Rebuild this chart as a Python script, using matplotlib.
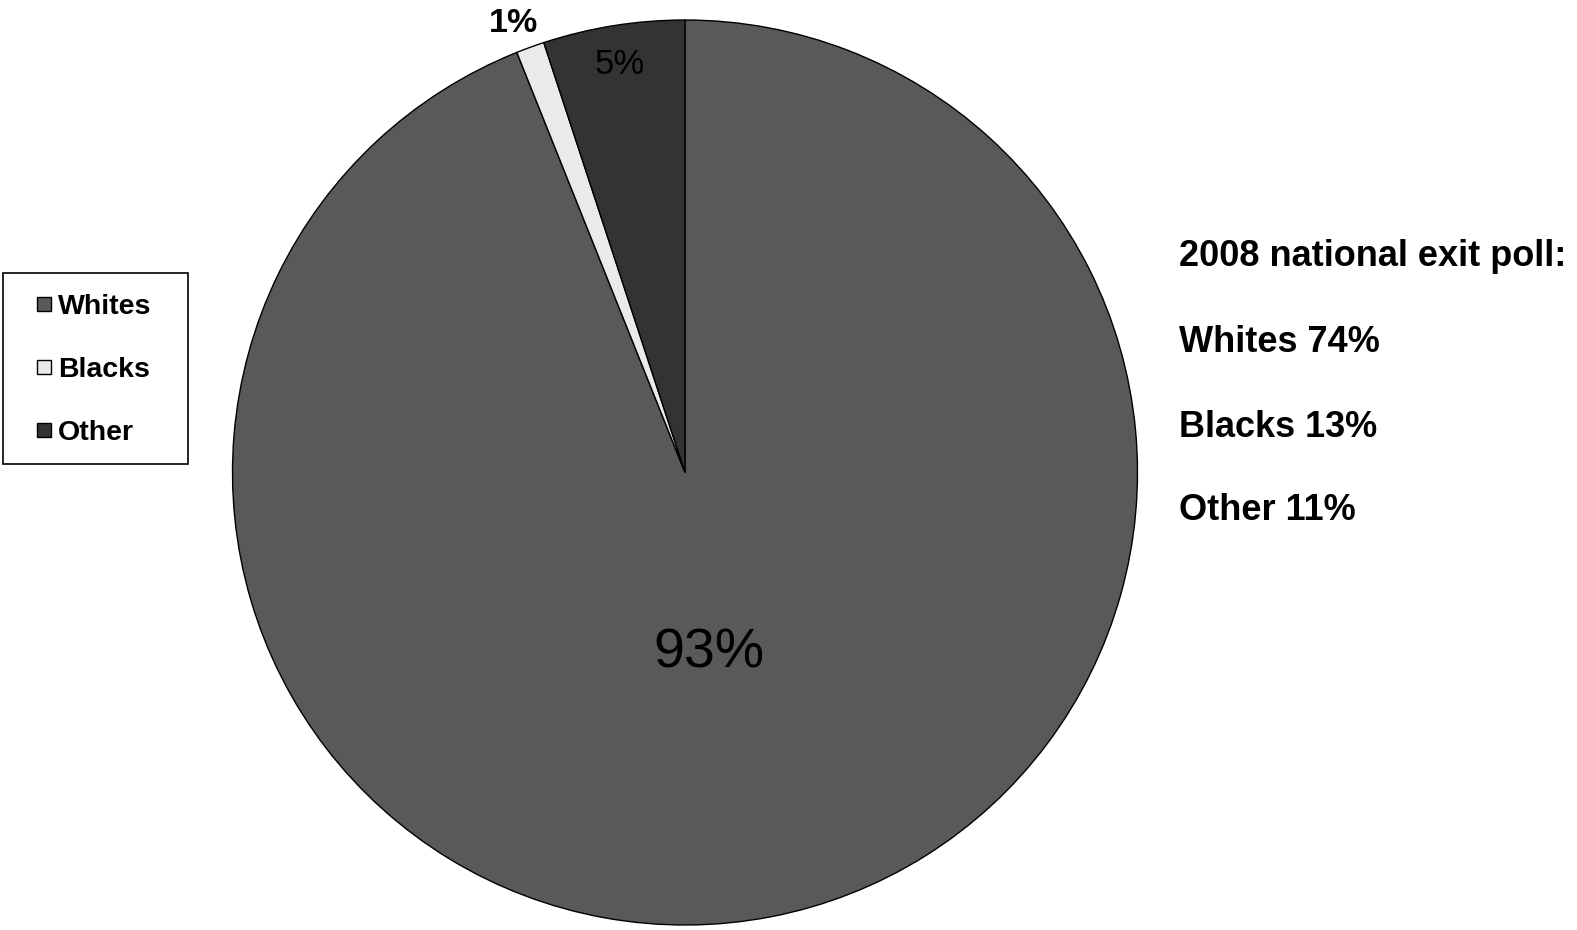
import matplotlib
matplotlib.use("Agg")
import matplotlib.pyplot as plt
from matplotlib.patches import Rectangle

categories = ["Whites", "Blacks", "Other"]
values = [93, 1, 5]
pie_labels = ["93%", "1%", "5%"]
colors = ["#595959", "#EAEAEA", "#333333"]
exit_poll_title = "2008 national exit poll:"
exit_poll_lines = ["Whites 74%", "Blacks 13%", "Other 11%"]

W, H = 1577, 930
fig = plt.figure(figsize=(W / 100, H / 100), dpi=100)
plt.rcParams['font.family'] = ['Liberation Sans', 'DejaVu Sans']

cx, cy, r = 685, 472.5, 452.5
ax = fig.add_axes([(cx - r) / W, (H - cy - r) / H, 2 * r / W, 2 * r / H])
wedges, _ = ax.pie(values, colors=colors, startangle=90, counterclock=False,
                   wedgeprops=dict(edgecolor="black", linewidth=1.0))
ax.set_xlim(-1, 1)
ax.set_ylim(-1, 1)
ax.set_aspect("equal")
ax.axis("off")

# slice labels
ax.text(0.053, -0.40, pie_labels[0], fontsize=40, ha="center", va="center", color="black")
ax.text(-0.144, 0.902, pie_labels[2], fontsize=25, ha="center", va="center", color="black")
ax.text(-0.380, 0.992, pie_labels[1], fontsize=24.5, fontweight="bold", ha="center", va="center",
        color="black", clip_on=False)

# legend (drawn manually to match box geometry)
def fx(x):
    return x / W

def fy(y):
    return 1 - y / H

box = Rectangle((fx(3), fy(464)), fx(188) - fx(3), fy(273) - fy(464),
                transform=fig.transFigure, facecolor="white", edgecolor="black",
                linewidth=1.2)
fig.add_artist(box)
row_y = [304, 367, 430]
sq = 14
for yy, c, lab in zip(row_y, colors, categories):
    fig.add_artist(Rectangle((fx(37), fy(yy + sq / 2)), sq / W, sq / H,
                             transform=fig.transFigure, facecolor=c,
                             edgecolor="black", linewidth=1.0))
    fig.text(fx(58), fy(yy), lab, fontsize=20.5, fontweight="bold",
             ha="left", va="center_baseline")

# right-side text
tx = 1179 / W
ys = [252, 338, 423, 507]
texts = [exit_poll_title] + exit_poll_lines
for y, t in zip(ys, texts):
    fig.text(tx, fy(y), t, fontsize=26, fontweight="bold", ha="left", va="center_baseline")

fig.savefig("out.png", dpi=100)
